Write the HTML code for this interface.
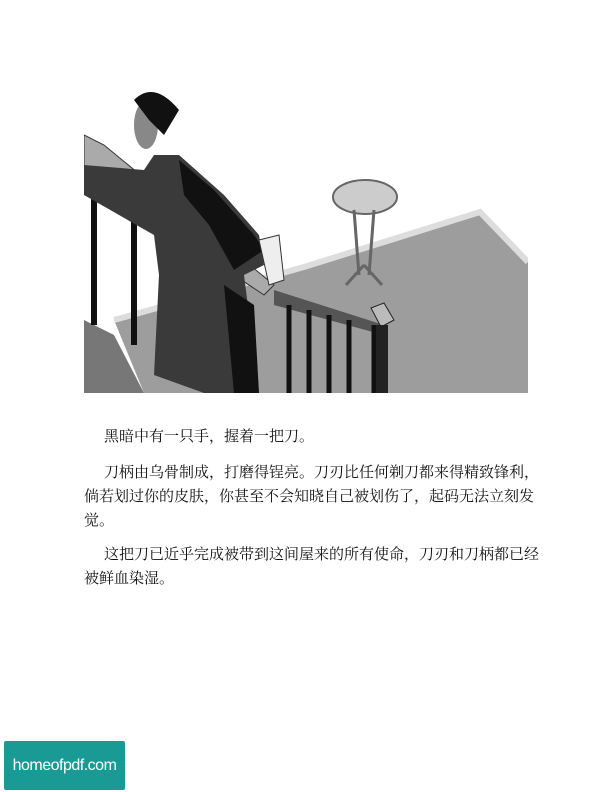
<!DOCTYPE html>
<html><head><meta charset="utf-8"><style>
body{margin:0;background:#fff;}
.page{position:relative;width:612px;height:792px;overflow:hidden;background:#fff;}
.p{position:absolute;left:84px;width:466px;font-family:"Liberation Serif","Noto Serif CJK SC",serif;font-size:15px;color:#111;line-height:24px;margin:0;}
.logo{position:absolute;left:4px;top:741px;width:121px;height:49px;background:#1a9a94;color:#fff;font-family:"Liberation Sans",sans-serif;font-size:16px;line-height:49px;text-align:center;border-radius:2px;letter-spacing:-0.5px;}
</style></head><body>
<div class="page">
<svg style="position:absolute;left:84px;top:75px" width="444" height="318" viewBox="0 0 444 318">
 <polygon points="396,137 444,187 444,318 60,318 30,245 220,192" fill="#9d9d9d"/>
 <polyline points="30,245 220,192 396,137 444,187" fill="none" stroke="#ddd" stroke-width="6"/>
 <ellipse cx="281" cy="122" rx="32" ry="17" fill="#ccc" stroke="#666" stroke-width="2"/>
 <path d="M270 135 L275 200 M290 135 L285 200 M280 190 L262 210 M280 190 L298 210" stroke="#666" stroke-width="3" fill="none"/>
 <polygon points="0,245 30,260 60,318 0,318" fill="#777"/>
 <polygon points="0,60 20,70 190,210 180,220 0,100" fill="#aaa" stroke="#333"/>
 <g stroke="#111" stroke-width="6"><line x1="10" y1="100" x2="10" y2="250"/><line x1="50" y1="130" x2="50" y2="270"/><line x1="90" y1="160" x2="90" y2="300"/></g>
 <polygon points="190,215 300,250 300,260 190,230" fill="#555"/>
 <g stroke="#111" stroke-width="5"><line x1="205" y1="230" x2="205" y2="318"/><line x1="225" y1="235" x2="225" y2="318"/><line x1="245" y1="240" x2="245" y2="318"/><line x1="265" y1="245" x2="265" y2="318"/><line x1="290" y1="250" x2="290" y2="318"/></g>
 <polygon points="287,233 300,228 310,245 297,252" fill="#bbb" stroke="#222"/>
 <rect x="292" y="250" width="12" height="68" fill="#222"/>
 <polygon points="70,80 95,80 140,120 175,160 180,190 160,200 175,318 120,318 70,300 75,200 70,160 0,120 0,90 60,95" fill="#3a3a3a"/>
 <polygon points="95,85 130,115 170,160 180,175 150,195 125,150 100,120" fill="#111"/>
 <polygon points="140,210 170,230 175,318 150,318" fill="#111"/>
 <ellipse cx="62" cy="50" rx="12" ry="24" fill="#888"/>
 <path d="M50 25 Q70 5 95 35 L80 60 L65 45 Z" fill="#111"/>
 <polygon points="175,165 195,160 200,205 185,210" fill="#eee" stroke="#333"/>
</svg>
<p class="p" style="top:425px;text-indent:20px">黑暗中有一只手，握着一把刀。</p>
<p class="p" style="top:461px;text-indent:20px">刀柄由乌骨制成，打磨得锃亮。刀刃比任何剃刀都来得精致锋利，倘若划过你的皮肤，你甚至不会知晓自己被划伤了，起码无法立刻发觉。</p>
<p class="p" style="top:543px;text-indent:20px">这把刀已近乎完成被带到这间屋来的所有使命，刀刃和刀柄都已经被鲜血染湿。</p>
<div class="logo">homeofpdf.com</div>
</div>
</body></html>
